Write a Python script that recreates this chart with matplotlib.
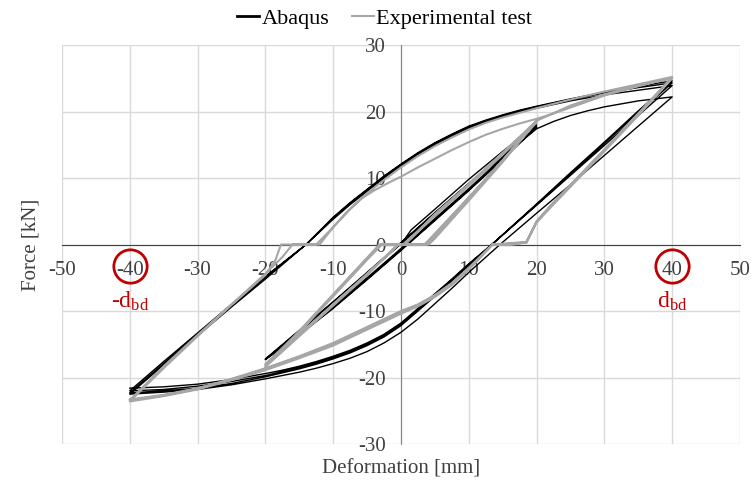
import matplotlib
matplotlib.use("Agg")
import matplotlib.pyplot as plt

plt.rcParams['font.family'] = ['Liberation Serif', 'DejaVu Serif']
plt.rcParams['mathtext.fontset'] = 'custom'
plt.rcParams['mathtext.rm'] = 'Liberation Serif'
plt.rcParams['mathtext.it'] = 'Liberation Serif:italic'
plt.rcParams['axes.unicode_minus'] = False

# ---------------- Abaqus (black) ----------------
ab_init_x = [0, 1.5, 5, 10, 15, 20]
ab_init_y = [0, 2.2, 5.3, 9.8, 14.0, 18.0]

# small cycles +/-20 mm
sm_dn_x = [20, 15, 10, 5, 0, -5, -10, -15, -20]
sm_up_x = [-20, -15, -10, -5, 0, 5, 10, 15, 20]
ab_sm_dn1 = [18.0, 13.1, 8.4, 3.9, -0.6, -5.0, -9.3, -13.4, -17.2]
ab_sm_up1 = [-17.2, -12.9, -8.6, -4.2, 0.3, 4.8, 9.2, 13.6, 17.8]
ab_sm_dn2 = [17.8, 12.9, 8.2, 3.7, -0.8, -5.2, -9.5, -13.5, -17.3]
ab_sm_up2 = [-17.3, -13.0, -8.7, -4.3, 0.2, 4.7, 9.1, 13.4, 17.6]
ab_sm_dn3 = [17.6, 12.8, 8.1, 3.6, -0.9, -5.3, -9.6, -13.6, -17.3]
ab_sm_up3 = [-17.3, -13.1, -8.8, -4.4, 0.1, 4.6, 9.0, 13.3, 17.4]

# transition to +40 mm
ab_tr_x = [20, 22.5, 25, 27.5, 30, 35, 40]
ab_tr_y = [17.4, 18.5, 19.4, 20.1, 20.7, 21.6, 22.2]

# large cycles +/-40 mm
ab_dn1_x = [40, 35, 30, 25, 20, 14.6, 10, 7.5, 5, 2.5, 0, -2.5, -5, -7.5, -10, -12.5, -15, -17.5, -20, -25, -30, -35, -40]
ab_dn1_y = [22.2, 17.8, 13.4, 9.0, 4.7, 0, -4.2, -6.6, -8.9, -11.2, -13.2, -14.8, -16.1, -17.1, -17.9, -18.6, -19.2, -19.7, -20.2, -21.1, -21.8, -22.2, -22.5]
lg_up_x = [-40, -35, -30, -25, -20, -14, -10, -7.5, -5, -2.5, 0, 2.5, 5, 7.5, 10, 12.5, 15, 17.5, 20, 25, 30, 35, 40]
lg_dn_x = [40, 35, 30, 25, 20, 13.4, 10, 7.5, 5, 2.5, 0, -2.5, -5, -7.5, -10, -12.5, -15, -17.5, -20, -25, -30, -35, -40]
ab_up1 = [-22.5, -18.1, -13.7, -9.4, -5.2, 0, 3.8, 6.0, 8.0, 10.0, 11.8, 13.5, 15.0, 16.3, 17.5, 18.4, 19.2, 19.9, 20.5, 21.6, 22.5, 23.2, 23.9]
ab_dn2 = [23.9, 19.4, 14.9, 10.4, 5.9, 0, -3.2, -5.5, -7.8, -10.0, -12.2, -13.9, -15.2, -16.3, -17.2, -18.0, -18.7, -19.3, -19.9, -20.9, -21.6, -22.0, -22.3]
ab_up2 = [-22.3, -17.9, -13.5, -9.2, -4.9, 0, 4.0, 6.2, 8.2, 10.2, 12.0, 13.7, 15.2, 16.5, 17.7, 18.6, 19.4, 20.1, 20.7, 21.8, 22.8, 23.6, 24.3]
ab_dn3 = [24.3, 19.8, 15.2, 10.6, 6.0, 0, -3.0, -5.3, -7.6, -9.8, -12.0, -13.7, -15.0, -16.1, -17.0, -17.8, -18.5, -19.1, -19.7, -20.6, -21.3, -21.8, -22.0]
ab_up3 = [-22.0, -17.6, -13.3, -9.0, -4.8, 0, 4.1, 6.3, 8.3, 10.3, 12.1, 13.8, 15.3, 16.6, 17.8, 18.7, 19.5, 20.2, 20.8, 21.9, 22.9, 23.8, 24.6]
ab_dn4 = [24.6, 20.1, 15.4, 10.8, 6.1, 0, -2.9, -5.2, -7.4, -9.6, -11.8, -13.5, -14.8, -15.9, -16.8, -17.6, -18.3, -18.9, -19.4, -20.3, -21.0, -21.4, -21.6]

# ---------------- Experimental test (grey) ----------------
ex_init_x = [0, 3.5, 5, 10, 15, 20]
ex_init_y = [0, 0, 1.6, 7.0, 12.6, 18.4]

ex_sm_dn_x1 = [20, 15, 10, 5, 0.5, -3.2, -5, -10, -15, -20]
ex_sm_dn_y1 = [18.4, 13.5, 8.8, 4.3, 0, 0, -2.0, -7.5, -13.0, -18.4]
ex_sm_up_x1 = [-20, -15, -10, -5, -0.5, 3.5, 5, 10, 15, 20]
ex_sm_up_y1 = [-18.4, -13.8, -9.2, -4.6, 0, 0, 1.6, 7.1, 12.7, 18.5]
ex_sm_dn_x2 = [20, 15, 10, 5, 0.3, -2.8, -5, -10, -15, -20]
ex_sm_dn_y2 = [18.5, 13.7, 9.0, 4.4, 0, 0, -2.3, -7.8, -13.2, -18.2]
ex_sm_up_x2 = [-20, -15, -10, -5, -0.3, 4.1, 5, 10, 15, 20]
ex_sm_up_y2 = [-18.2, -13.6, -9.0, -4.4, 0, 0, 0.9, 6.6, 12.4, 18.6]
ex_sm_dn_x3 = [20, 15, 10, 5, 0.6, -3.0, -5, -10, -15, -20]
ex_sm_dn_y3 = [18.6, 13.8, 9.1, 4.6, 0, 0, -2.1, -7.6, -13.1, -18.0]
ex_sm_up_x3 = [-20, -15, -10, -5, -0.4, 3.8, 5, 10, 15, 20]
ex_sm_up_y3 = [-18.0, -13.5, -9.0, -4.5, 0, 0, 1.3, 6.9, 12.6, 18.6]

ex_tr_x = [20, 25, 30, 35, 40]
ex_tr_y = [18.6, 20.9, 22.6, 23.9, 25.0]

ex_dn_x = [40, 35, 30, 25, 22, 20, 18.5, 16, 13.5, 10, 7.5, 5, 2.5, 0, -5, -10, -15, -20, -25, -30, -35, -40]
ex_dn1 = [25.0, 19.4, 14.0, 8.7, 5.5, 3.3, 0.3, 0.1, 0, -3.8, -6.1, -7.9, -9.3, -10.4, -12.8, -15.2, -17.1, -18.9, -20.4, -21.8, -22.8, -23.6]
ex_dn2 = [25.1, 19.6, 14.2, 8.9, 5.7, 3.4, 0.3, -0.1, 0, -3.6, -5.9, -7.7, -9.1, -10.2, -12.6, -15.0, -16.9, -18.7, -20.3, -21.7, -22.7, -23.4]
ex_dn3 = [25.2, 19.7, 14.3, 9.0, 5.8, 3.5, 0.4, 0.2, 0, -3.5, -5.8, -7.6, -9.0, -10.0, -12.4, -14.8, -16.8, -18.6, -20.2, -21.6, -22.6, -23.3]

ex_up1_x = [-40, -35, -30, -25, -20, -18.5, -17.7, -12.5, -10, -8, -6, -4, -2, 0, 2.5, 5, 7.5, 10, 12.5, 15, 17.5, 20, 22.5, 25, 30, 35, 40]
ex_up1_y = [-23.6, -18.6, -13.8, -9.1, -4.6, -2.3, 0, 0, 2.6, 4.9, 6.8, 8.1, 9.2, 10.2, 11.6, 12.9, 14.2, 15.4, 16.5, 17.4, 18.2, 18.9, 19.7, 20.6, 22.4, 23.8, 25.1]
ex_up_x = [-40, -35, -30, -25, -20, -17.5, -16, -12, -10, -7.5, -5, -2.5, 0, 2.5, 5, 7.5, 10, 12.5, 15, 17.5, 20, 25, 30, 35, 40]
ex_up2 = [-23.4, -18.3, -13.6, -9.0, -4.4, -1.9, 0, 0, 2.6, 5.3, 7.7, 9.7, 11.6, 13.3, 14.8, 16.1, 17.3, 18.3, 19.1, 19.8, 20.5, 21.8, 23.0, 24.1, 25.2]

# axis ticks and markers of the design displacement
x_ticks = list(range(-50, 51, 10))
y_ticks = list(range(-30, 31, 10))
dbd_x = [-40, 40]
dbd_labels = [r'-d$_{\mathrm{bd}}$', r'd$_{\mathrm{bd}}$']


def join(*parts):
    xs, ys = [], []
    for px, py in parts:
        xs += list(px)
        ys += list(py)
    return xs, ys


ab_x, ab_y = join((ab_init_x, ab_init_y),
                  (sm_dn_x, ab_sm_dn1), (sm_up_x, ab_sm_up1),
                  (sm_dn_x, ab_sm_dn2), (sm_up_x, ab_sm_up2),
                  (sm_dn_x, ab_sm_dn3), (sm_up_x, ab_sm_up3),
                  (ab_tr_x, ab_tr_y), (ab_dn1_x, ab_dn1_y),
                  (lg_up_x, ab_up1), (lg_dn_x, ab_dn2),
                  (lg_up_x, ab_up2), (lg_dn_x, ab_dn3),
                  (lg_up_x, ab_up3), (lg_dn_x, ab_dn4))

ex_x, ex_y = join((ex_init_x, ex_init_y),
                  (ex_sm_dn_x1, ex_sm_dn_y1), (ex_sm_up_x1, ex_sm_up_y1),
                  (ex_sm_dn_x2, ex_sm_dn_y2), (ex_sm_up_x2, ex_sm_up_y2),
                  (ex_sm_dn_x3, ex_sm_dn_y3), (ex_sm_up_x3, ex_sm_up_y3),
                  (ex_tr_x, ex_tr_y), (ex_dn_x, ex_dn1),
                  (ex_up1_x, ex_up1_y), (ex_dn_x, ex_dn2),
                  (ex_up_x, ex_up2), (ex_dn_x, ex_dn3))

fig = plt.figure(figsize=(7.52, 4.83), dpi=100)
ax = fig.add_axes([0.0824, 0.0807, 0.9016, 0.8261])

ax.plot(ab_x, ab_y, color='black', lw=1.0, label='Abaqus', zorder=3)
ax.plot(ex_x, ex_y, color='#a6a6a6', lw=1.5, label='Experimental test', zorder=4)

ax.set_xlim(-50, 50)
ax.set_ylim(-30, 30)
ax.set_xticks(x_ticks)
ax.set_yticks(y_ticks)
ax.grid(True, color='#d9d9d9', lw=1.0, zorder=0)
ax.set_axisbelow(True)

for s in ['top', 'right']:
    ax.spines[s].set_visible(False)
ax.spines['left'].set_position('zero')
ax.spines['bottom'].set_position('zero')
ax.spines['left'].set_color('#868686')
ax.spines['bottom'].set_color('#404040')
ax.tick_params(length=0, labelsize=15, colors='#404040')
ax.tick_params(axis='x', pad=12)
ax.tick_params(axis='y', pad=11)

ax.set_xlabel('Deformation [mm]', fontsize=15, color='#404040')
ax.set_ylabel('Force [kN]', fontsize=15, color='#404040')
ax.xaxis.set_label_coords(0.5, -0.04)
ax.yaxis.set_label_coords(-0.032, 0.5)

# red circles around +/-40 and d_bd labels
for xv, lab in zip(dbd_x, dbd_labels):
    ax.plot([xv], [-3.2], marker='o', ms=24, mfc='none', mec='#c00000', mew=2, clip_on=False, zorder=5)
    ax.text(xv, -8.5, lab, color='#c00000', fontsize=17, ha='center', va='center')

leg = ax.legend(loc='lower center', bbox_to_anchor=(0.476, 1.018), ncol=2, frameon=False,
                fontsize=16, handlelength=1.0, handletextpad=0.1, columnspacing=1.0,
                borderaxespad=0)
leg.get_lines()[0].set_linewidth(2)

fig.savefig('out.png', dpi=100)
